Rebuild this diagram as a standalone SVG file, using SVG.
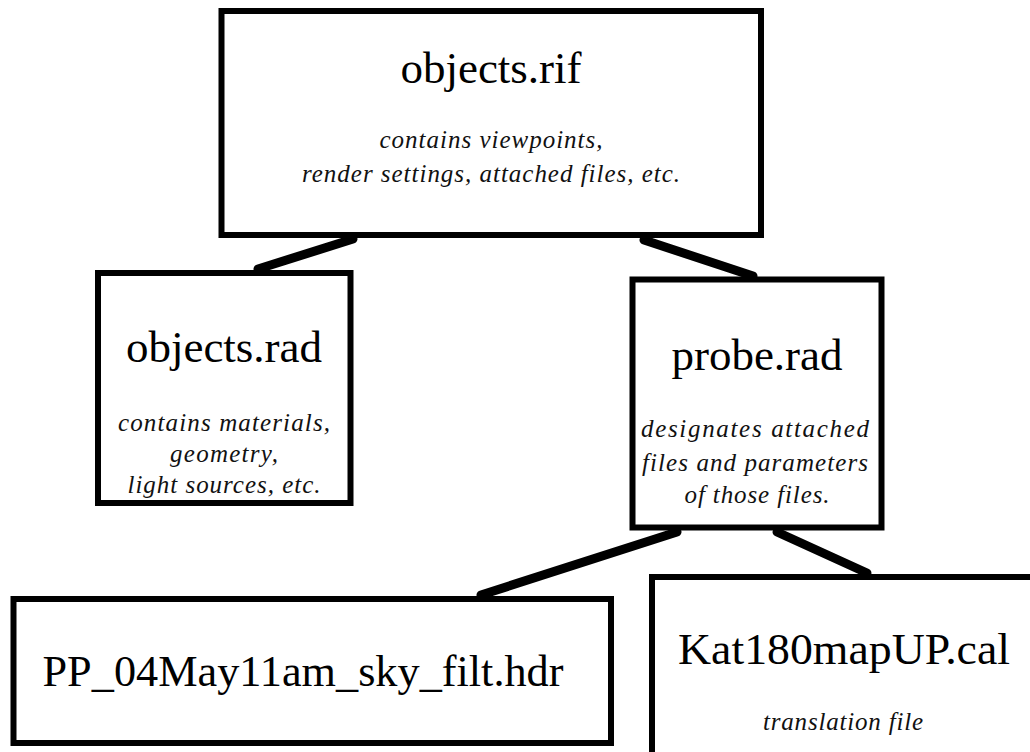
<svg xmlns="http://www.w3.org/2000/svg" width="1030" height="752" viewBox="0 0 1030 752">
<style>
.box{fill:#fff;stroke:#000;stroke-width:6}
.title{font-family:"Liberation Serif","Times New Roman",serif;font-size:45px;fill:#000;text-anchor:middle}
.sub{font-family:"Liberation Serif","Times New Roman",serif;font-style:italic;font-size:25px;fill:#111;text-anchor:middle}
.conn{stroke:#000;stroke-width:9;stroke-linecap:round;fill:none}
</style>
<rect width="1030" height="752" fill="#fff"/>
<g id="connectors">
<line class="conn" x1="353" y1="239" x2="258" y2="269"/>
<line class="conn" x1="644" y1="240" x2="753" y2="276"/>
<line class="conn" x1="677" y1="532" x2="481" y2="595"/>
<line class="conn" x1="777" y1="532" x2="867" y2="573"/>
</g>
<g id="objects-rif">
<rect class="box" x="221.5" y="11" width="539.5" height="224"/>
<text class="title" x="491" y="83">objects.rif</text>
<text class="sub" x="491" y="148" textLength="223" lengthAdjust="spacing">contains viewpoints,</text>
<text class="sub" x="491" y="182" textLength="378" lengthAdjust="spacing">render settings, attached files, etc.</text>
</g>
<g id="objects-rad">
<rect class="box" x="98" y="273" width="252.5" height="230"/>
<text class="title" x="224" y="362">objects.rad</text>
<text class="sub" x="224" y="431" textLength="212" lengthAdjust="spacing">contains materials,</text>
<text class="sub" x="224" y="462" textLength="108" lengthAdjust="spacing">geometry,</text>
<text class="sub" x="224" y="493" textLength="193" lengthAdjust="spacing">light sources, etc.</text>
</g>
<g id="probe-rad">
<rect class="box" x="632.5" y="279.5" width="249" height="248"/>
<text class="title" x="757" y="370">probe.rad</text>
<text class="sub" x="755" y="437" textLength="228" lengthAdjust="spacing">designates attached</text>
<text class="sub" x="755" y="471" textLength="226" lengthAdjust="spacing">files and parameters</text>
<text class="sub" x="757" y="503" textLength="145" lengthAdjust="spacing">of those files.</text>
</g>
<g id="pp-hdr">
<rect class="box" x="13.5" y="599" width="597.5" height="144"/>
<text class="title" x="303" y="686" textLength="521" lengthAdjust="spacingAndGlyphs">PP_04May11am_sky_filt.hdr</text>
</g>
<g id="kat-cal">
<rect class="box" x="652" y="577" width="420" height="200"/>
<text class="title" x="844" y="664" textLength="332" lengthAdjust="spacingAndGlyphs">Kat180mapUP.cal</text>
<text class="sub" x="843" y="730" textLength="160" lengthAdjust="spacing">translation file</text>
</g>
</svg>
